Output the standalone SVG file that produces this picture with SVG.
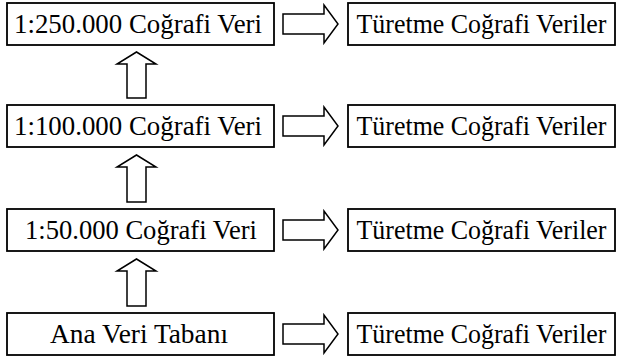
<svg xmlns="http://www.w3.org/2000/svg" width="617" height="363" viewBox="0 0 617 363">
<style>
  .box { fill: #fff; stroke: #000; stroke-width: 1.8; }
  .arr { fill: #fff; stroke: #000; stroke-width: 1.5; stroke-linejoin: miter; }
  .t { font-family: "Liberation Serif", "Times New Roman", serif; font-size: 26.5px; fill: #000; text-anchor: middle; }
</style>
<rect width="617" height="363" fill="#fff"/>
<g id="connectors">
  <path class="arr" d="M283,14 H324 V5 L338,24 L324,43 V34 H283 Z"/>
  <path class="arr" d="M283,116 H324 V107 L338,126 L324,145 V136 H283 Z"/>
  <path class="arr" d="M283,220 H324 V211 L338,230 L324,249 V240 H283 Z"/>
  <path class="arr" d="M283,324 H324 V315 L338,334 L324,353 V344 H283 Z"/>
  <path class="arr" d="M127,98 V64 H117 L136.5,52 L156,64 H146 V98 Z"/>
  <path class="arr" d="M127,202 V167 H117 L136.5,155 L156,167 H146 V202 Z"/>
  <path class="arr" d="M127,306 V271 H117 L136.5,259 L156,271 H146 V306 Z"/>
</g>
<g id="n250">
  <rect class="box" x="7" y="3" width="267" height="42"/>
  <text class="t" x="138" y="33" textLength="248" lengthAdjust="spacingAndGlyphs">1:250.000 Coğrafi Veri</text>
</g>
<g id="t250">
  <rect class="box" x="348" y="3" width="267" height="42"/>
  <text class="t" x="481.5" y="33" textLength="250" lengthAdjust="spacingAndGlyphs">Türetme Coğrafi Veriler</text>
</g>
<g id="n100">
  <rect class="box" x="7" y="105" width="267" height="42"/>
  <text class="t" x="138" y="135" textLength="248" lengthAdjust="spacingAndGlyphs">1:100.000 Coğrafi Veri</text>
</g>
<g id="t100">
  <rect class="box" x="348" y="105" width="267" height="42"/>
  <text class="t" x="481.5" y="135" textLength="250" lengthAdjust="spacingAndGlyphs">Türetme Coğrafi Veriler</text>
</g>
<g id="n50">
  <rect class="box" x="7" y="209" width="267" height="42"/>
  <text class="t" x="141" y="239" textLength="232" lengthAdjust="spacingAndGlyphs">1:50.000 Coğrafi Veri</text>
</g>
<g id="t50">
  <rect class="box" x="348" y="209" width="267" height="42"/>
  <text class="t" x="481.5" y="239" textLength="250" lengthAdjust="spacingAndGlyphs">Türetme Coğrafi Veriler</text>
</g>
<g id="ana">
  <rect class="box" x="7" y="313" width="267" height="42"/>
  <text class="t" x="139" y="343" textLength="178" lengthAdjust="spacingAndGlyphs">Ana Veri Tabanı</text>
</g>
<g id="tana">
  <rect class="box" x="348" y="313" width="267" height="42"/>
  <text class="t" x="481.5" y="343" textLength="250" lengthAdjust="spacingAndGlyphs">Türetme Coğrafi Veriler</text>
</g>
</svg>
